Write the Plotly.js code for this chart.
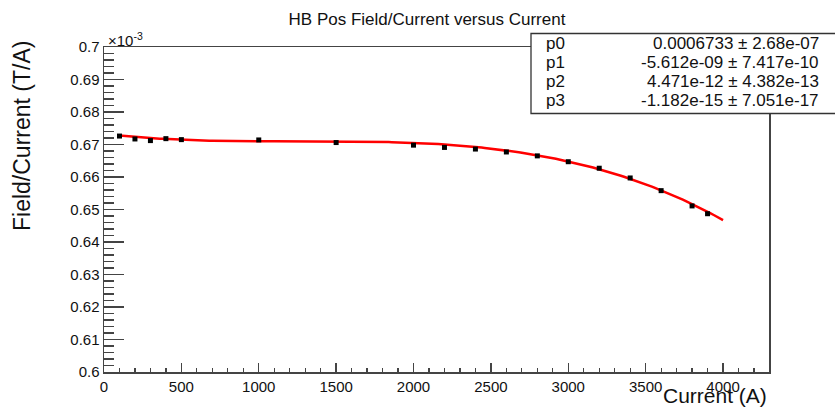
<!DOCTYPE html>
<html>
<head>
<meta charset="utf-8">
<script src="https://cdn.plot.ly/plotly-3.0.1.min.js"></script>
<style>
  html, body { margin: 0; padding: 0; background: #fff; }
  #plot { width: 835px; height: 410px; }
</style>
</head>
<body>
<div id="plot"></div>
<script>
// Measured field/current ratio (units of 1e-3 T/A) against magnet current (A)
const current = [100, 200, 300, 400, 500, 1000, 1500, 2000, 2200, 2400,
                 2600, 2800, 3000, 3200, 3400, 3600, 3800, 3900];
const fieldPerCurrent = [0.6726, 0.6717, 0.6712, 0.6718, 0.6715, 0.6714, 0.6706, 0.6698, 0.6691, 0.6686,
                         0.6677, 0.6665, 0.6647, 0.6627, 0.6597, 0.6558, 0.6511, 0.6487];

// Cubic polynomial fit results (T/A): value and error for p0..p3
const parNames  = ["p0", "p1", "p2", "p3"];
const parValues = [0.0006733, -5.612e-09, 4.471e-12, -1.182e-15];
const parValueText = ["0.0006733", "-5.612e-09", "4.471e-12", "-1.182e-15"];
const parErrorText = ["2.68e-07", "7.417e-10", "4.382e-13", "7.051e-17"];

// Axis tick labels
const yTickVals = [0.60, 0.61, 0.62, 0.63, 0.64, 0.65, 0.66, 0.67, 0.68, 0.69, 0.70];
const yTickText = ["0.6", "0.61", "0.62", "0.63", "0.64", "0.65", "0.66", "0.67", "0.68", "0.69", "0.7"];
const xTickVals = [0, 500, 1000, 1500, 2000, 2500, 3000, 3500, 4000];
const xTickText = ["0", "500", "1000", "1500", "2000", "2500", "3000", "3500", "4000"];

// Fit curve evaluated from the fitted parameters, scaled to 1e-3 T/A
const fitX = [], fitY = [];
for (let I = 100; I <= 4000; I += 20) {
  const v = parValues[0] + parValues[1] * I + parValues[2] * I * I + parValues[3] * I * I * I;
  fitX.push(I);
  fitY.push(v * 1e3);
}

const FONT = "Liberation Sans, Arial, Helvetica, sans-serif";
const W = 835, H = 410;
const M = { l: 104, r: 66, t: 47, b: 38 };
const PW = W - M.l - M.r, PH = H - M.t - M.b;
// pixel position -> paper coordinates
const px = x => (x - M.l) / PW;
const py = y => (H - M.b - y) / PH;

const traces = [
  {
    x: fitX, y: fitY, type: "scatter", mode: "lines",
    line: { color: "#ff0000", width: 2.5 },
    hoverinfo: "skip", showlegend: false
  },
  {
    x: current, y: fieldPerCurrent, type: "scatter", mode: "markers",
    marker: { symbol: "square", size: 5, color: "#000" },
    showlegend: false
  }
];

const annotations = [
  { xref: "paper", yref: "paper", x: 0.0, y: 1.0, xanchor: "left", yanchor: "bottom",
    text: "×10<sup>-3</sup>", showarrow: false, font: { family: FONT, size: 15, color: "#111" },
    xshift: 2, yshift: -4 },
  { xref: "paper", yref: "paper", x: px(22), y: py(39), xanchor: "center", yanchor: "top",
    text: "Field/Current (T/A)", textangle: -90, showarrow: false,
    font: { family: FONT, size: 23, color: "#111" } },
  { xref: "paper", yref: "paper", x: px(769), y: py(409), xanchor: "right", yanchor: "bottom",
    text: "Current (A)", showarrow: false, font: { family: FONT, size: 21, color: "#111" } }
];

// Fit statistics box rows
const rowY = [43.5, 62.5, 81.5, 100.5];
for (let i = 0; i < parNames.length; i++) {
  annotations.push({
    xref: "paper", yref: "paper", x: px(544), y: py(rowY[i]), xanchor: "left", yanchor: "middle",
    text: parNames[i], showarrow: false, font: { family: FONT, size: 17, color: "#111" }
  });
  annotations.push({
    xref: "paper", yref: "paper", x: px(821), y: py(rowY[i]), xanchor: "right", yanchor: "middle",
    text: parValueText[i] + " ± " + parErrorText[i], showarrow: false,
    font: { family: FONT, size: 17, color: "#111" }
  });
}

const shapes = [
  { type: "rect", xref: "paper", yref: "paper", layer: "above",
    x0: px(531), x1: px(850), y0: py(113.5), y1: py(33.5),
    line: { color: "#333", width: 1.3 }, fillcolor: "#fff" }
];

const layout = {
  width: W, height: H,
  margin: M,
  paper_bgcolor: "#fff", plot_bgcolor: "#fff",
  font: { family: FONT, size: 15, color: "#111" },
  title: { text: "HB Pos Field/Current versus Current", x: 427 / W, xanchor: "center",
           y: 1 - 19 / H, yanchor: "middle", font: { family: FONT, size: 17, color: "#111" } },
  xaxis: {
    range: [0, 4297], showgrid: false, zeroline: false,
    showline: true, linecolor: "#444", linewidth: 1.5, mirror: true,
    ticks: "inside", ticklen: 9, tickwidth: 1.3, tickcolor: "#444",
    tickvals: xTickVals, ticktext: xTickText,
    tickfont: { family: FONT, size: 15, color: "#111" },
    minor: { dtick: 100, ticks: "inside", ticklen: 4.5, tickwidth: 1.2, tickcolor: "#444", showgrid: false }
  },
  yaxis: {
    range: [0.6, 0.7], showgrid: false, zeroline: false,
    showline: true, linecolor: "#444", linewidth: 1.5, mirror: true,
    ticks: "inside", ticklen: 20, tickwidth: 1.3, tickcolor: "#444",
    tickvals: yTickVals, ticktext: yTickText,
    tickfont: { family: FONT, size: 15, color: "#111" },
    minor: { dtick: 0.002, ticks: "inside", ticklen: 10, tickwidth: 1.2, tickcolor: "#444", showgrid: false }
  },
  annotations: annotations,
  shapes: shapes,
  showlegend: false
};

Plotly.newPlot("plot", traces, layout, { displayModeBar: false, staticPlot: true });
</script>
</body>
</html>
